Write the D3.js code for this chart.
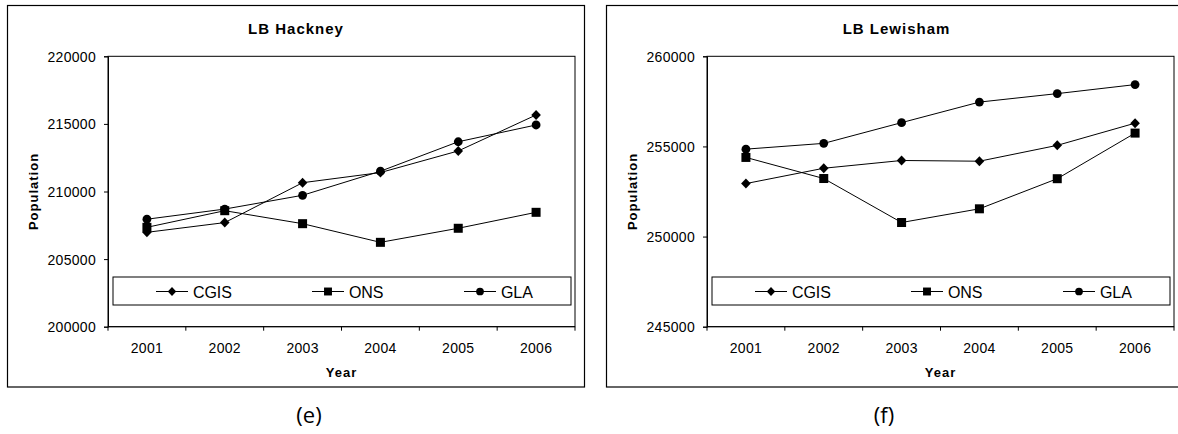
<!DOCTYPE html>
<html>
<head>
<meta charset="utf-8">
<script src="https://cdn.jsdelivr.net/npm/d3@7/dist/d3.min.js"></script>
<style>
  html, body { margin: 0; padding: 0; background: #fff; }
  svg { display: block; }
  text { font-family: "Liberation Sans", Arial, sans-serif; fill: #000; }
</style>
</head>
<body>
<svg id="chart" width="1178" height="434"></svg>
<script>
// ---------------- data ----------------
const years = ["2001", "2002", "2003", "2004", "2005", "2006"];
const seriesNames = ["CGIS", "ONS", "GLA"];

const hackneyCGIS = [206980, 207700, 210650, 211400, 213000, 215660];
const hackneyONS  = [207350, 208580, 207620, 206240, 207280, 208460];
const hackneyGLA  = [207950, 208700, 209720, 211500, 213680, 214920];
const hackneyTicks = [200000, 205000, 210000, 215000, 220000];

const lewishamCGIS = [252940, 253790, 254220, 254180, 255060, 256290];
const lewishamONS  = [254390, 253220, 250780, 251540, 253210, 255740];
const lewishamGLA  = [254850, 255170, 256320, 257460, 257930, 258430];
const lewishamTicks = [245000, 250000, 255000, 260000];

const charts = [
  { title: "LB Hackney", label: "(e)", ticks: hackneyTicks,
    series: [hackneyCGIS, hackneyONS, hackneyGLA], frameX: 7.5, frameW: 577, labelX: 309 },
  { title: "LB Lewisham", label: "(f)", ticks: lewishamTicks,
    series: [lewishamCGIS, lewishamONS, lewishamGLA], frameX: 606.5, frameW: 580, labelX: 884 }
];
const markers = ["diamond", "square", "circle"];

// ---------------- drawing ----------------
const svg = d3.select("#chart");

function drawMarker(sel, type, size) {
  const s = size || 1;
  if (type === "square") {
    sel.append("rect").attr("x", -4.5 * s).attr("y", -4.5 * s)
      .attr("width", 9 * s).attr("height", 9 * s).attr("fill", "#000");
  } else if (type === "circle") {
    sel.append("circle").attr("r", 4.4 * s).attr("fill", "#000");
  } else {
    sel.append("path").attr("d", `M0,${-5 * s}L${4.8 * s},0L0,${5 * s}L${-4.8 * s},0Z`)
      .attr("fill", "#000");
  }
}

charts.forEach(cfg => {
  const frameTop = 5.5, frameBottom = 387;
  const g = svg.append("g");

  // outer frame
  g.append("rect")
    .attr("x", cfg.frameX).attr("y", frameTop)
    .attr("width", cfg.frameW).attr("height", frameBottom - frameTop)
    .attr("fill", "#fff").attr("stroke", "#000").attr("stroke-width", 1.2);

  const plotL = cfg.frameX + 100.5, plotR = plotL + 467;
  const plotT = 56.3, plotB = 326.7;

  const x = d3.scaleBand().domain(years).range([plotL, plotR]).paddingInner(0).paddingOuter(0);
  const y = d3.scaleLinear().domain([cfg.ticks[0], cfg.ticks[cfg.ticks.length - 1]]).range([plotB, plotT]);

  // plot area border
  g.append("rect")
    .attr("x", plotL).attr("y", plotT)
    .attr("width", plotR - plotL).attr("height", plotB - plotT)
    .attr("fill", "none").attr("stroke", "#000").attr("stroke-width", 1);

  // y axis
  const yAxis = d3.axisLeft(y).tickValues(cfg.ticks).tickSize(4).tickPadding(8)
    .tickFormat(d3.format("d"));
  const ya = g.append("g").attr("transform", `translate(${plotL},0)`).call(yAxis);
  ya.select(".domain").attr("stroke", "#000");
  ya.selectAll(".tick line").attr("stroke", "#000");
  ya.selectAll(".tick text")
    .style("font-family", '"Liberation Sans", Arial, sans-serif')
    .style("font-size", "14px").style("letter-spacing", "0.3px")
    .attr("fill", "#000").attr("dy", "0.35em");

  // x axis: ticks at band boundaries
  const xa = g.append("g");
  xa.append("line").attr("x1", plotL).attr("x2", plotR)
    .attr("y1", plotB).attr("y2", plotB).attr("stroke", "#000");
  const bounds = years.map(d => x(d)).concat([plotR]);
  xa.selectAll("line.tk").data(bounds).join("line").attr("class", "tk")
    .attr("x1", d => d).attr("x2", d => d)
    .attr("y1", plotB).attr("y2", plotB + 4).attr("stroke", "#000");
  xa.selectAll("text").data(years).join("text")
    .attr("x", d => x(d) + x.bandwidth() / 2)
    .attr("y", plotB + 26)
    .attr("text-anchor", "middle")
    .style("font-size", "14px").style("letter-spacing", "0.3px")
    .text(d => d);

  // series lines & markers
  const line = d3.line()
    .x((d, i) => x(years[i]) + x.bandwidth() / 2)
    .y(d => y(d));
  cfg.series.forEach((vals, si) => {
    g.append("path").datum(vals)
      .attr("d", line).attr("fill", "none")
      .attr("stroke", "#000").attr("stroke-width", 1);
  });
  cfg.series.forEach((vals, si) => {
    vals.forEach((v, i) => {
      const m = g.append("g")
        .attr("transform", `translate(${x(years[i]) + x.bandwidth() / 2},${y(v)})`);
      drawMarker(m, markers[si]);
    });
  });

  // legend
  const lgX = plotL + 5, lgY = 277, lgW = 458, lgH = 28;
  const lg = g.append("g");
  lg.append("rect").attr("x", lgX).attr("y", lgY).attr("width", lgW).attr("height", lgH)
    .attr("fill", "#fff").attr("stroke", "#000").attr("stroke-width", 1);
  const itemOffsets = [43, 199, 351];
  seriesNames.forEach((name, i) => {
    const sx = lgX + itemOffsets[i], cy = lgY + 14.5;
    lg.append("line").attr("x1", sx).attr("x2", sx + 32)
      .attr("y1", cy).attr("y2", cy).attr("stroke", "#000").attr("stroke-width", 1);
    const m = lg.append("g").attr("transform", `translate(${sx + 16},${cy})`);
    drawMarker(m, markers[i], 0.88);
    lg.append("text").attr("x", sx + 37).attr("y", cy + 6)
      .style("font-size", "16px").style("letter-spacing", "-0.1px")
      .text(name);
  });

  // titles
  g.append("text")
    .attr("x", cfg.frameX + cfg.frameW / 2).attr("y", 34)
    .attr("text-anchor", "middle")
    .style("font-size", "15px").style("font-weight", "bold").style("letter-spacing", "1px")
    .text(cfg.title);

  g.append("text")
    .attr("transform", `translate(${cfg.frameX + 30.5},${(plotT + plotB) / 2}) rotate(-90)`)
    .attr("text-anchor", "middle")
    .style("font-size", "13px").style("font-weight", "bold").style("letter-spacing", "1px")
    .text("Population");

  g.append("text")
    .attr("x", (plotL + plotR) / 2).attr("y", 377)
    .attr("text-anchor", "middle")
    .style("font-size", "13px").style("font-weight", "bold").style("letter-spacing", "1px")
    .text("Year");

  // panel label
  g.append("text")
    .attr("x", cfg.labelX).attr("y", 423)
    .attr("text-anchor", "middle")
    .style("font-family", '"Open Sans", "Noto Sans", sans-serif')
    .style("font-size", "22px")
    .text(cfg.label);
});
</script>
</body>
</html>
